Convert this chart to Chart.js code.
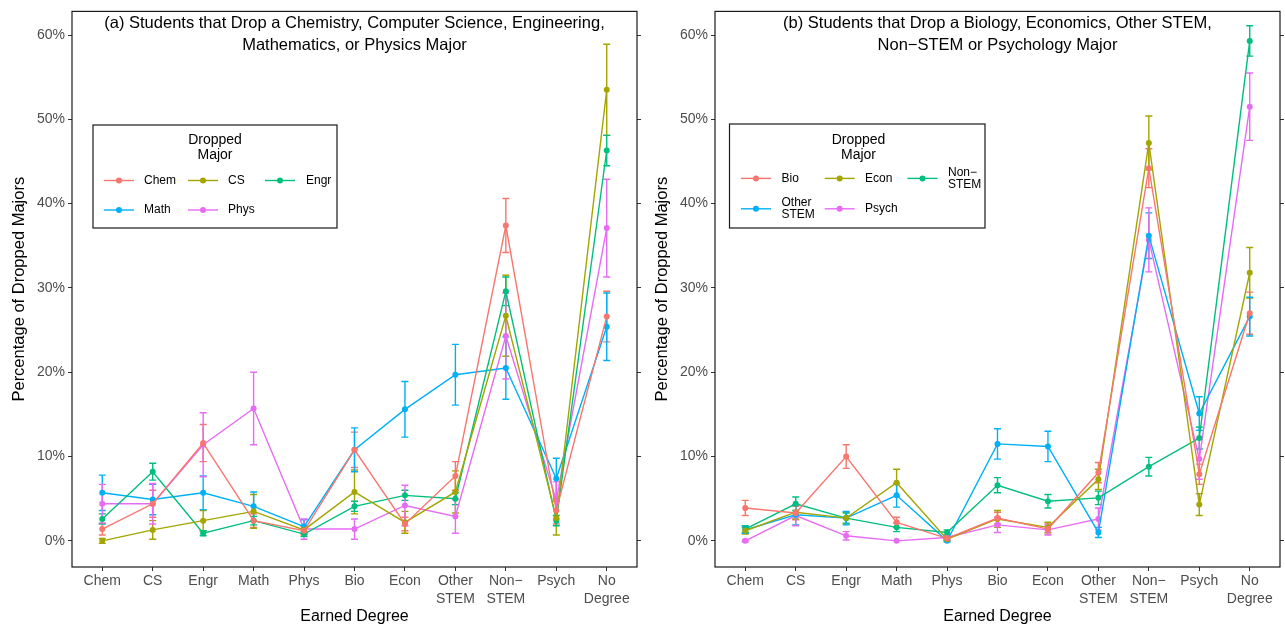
<!DOCTYPE html>
<html>
<head>
<meta charset="utf-8">
<script src="https://cdn.jsdelivr.net/npm/chart.js@4"></script>
<style>
  body { margin: 0; background: #fff; width: 1285px; height: 626px; overflow: hidden; position: relative; }
  canvas { position: absolute; top: 0; }
  #panelA { left: 0; }
  #panelB { left: 643px; }
</style>
</head>
<body>
<canvas id="panelA" width="642" height="626"></canvas>
<canvas id="panelB" width="642" height="626"></canvas>
<script>
// earned degree categories (x axis) and y ticks
const degreeLabels = ['Chem', 'CS', 'Engr', 'Math', 'Phys', 'Bio', 'Econ', ['Other', 'STEM'], ['Non\u2212', 'STEM'], 'Psych', ['No', 'Degree']];
const yTickValues = [0, 10, 20, 30, 40, 50, 60];
const hueColors = ['#F8766D', '#A3A500', '#00BF7D', '#00B0F6', '#E76BF3'];

// panel (a): dropped Chem / CS / Engr / Math / Phys
const majorsA = ['Chem', 'CS', 'Engr', 'Math', 'Phys'];
const chemPct = [1.4, 4.4, 11.6, 2.4, 1.2, 10.8, 2.0, 7.7, 37.4, 3.6, 26.6];
const chemErr = [0.7, 1.6, 2.2, 0.8, 0.5, 2.1, 0.8, 1.7, 3.2, 1.6, 3.0];
const csPct   = [0.0, 1.3, 2.4, 3.5, 1.3, 5.8, 2.2, 5.8, 26.7, 2.7, 53.5];
const csErr   = [0.3, 1.1, 1.2, 2.0, 0.5, 2.6, 1.3, 2.5, 4.8, 2.0, 5.4];
const engrPct = [2.6, 8.2, 0.9, 2.4, 0.8, 4.1, 5.4, 5.0, 29.6, 2.4, 46.3];
const engrErr = [0.6, 1.0, 0.3, 0.5, 0.3, 0.6, 0.6, 0.7, 1.7, 0.6, 1.8];
const mathPct = [5.7, 4.9, 5.7, 4.1, 1.7, 10.8, 15.6, 19.7, 20.5, 7.4, 25.4];
const mathErr = [2.1, 1.8, 2.0, 1.7, 0.8, 2.6, 3.3, 3.6, 3.7, 2.4, 4.0];
const physPct = [4.4, 4.4, 11.4, 15.7, 1.4, 1.4, 4.2, 2.9, 24.3, 4.8, 37.1];
const physErr = [2.3, 2.4, 3.8, 4.3, 1.2, 1.2, 2.4, 2.0, 5.1, 2.2, 5.8];

// panel (b): dropped Bio / Econ / Non-STEM / Other STEM / Psych
const majorsB = ['Bio', 'Econ', ['Non\u2212', 'STEM'], ['Other', 'STEM'], 'Psych'];
const bioPct      = [3.9, 3.3, 10.0, 2.2, 0.3, 2.7, 1.4, 8.1, 44.2, 7.9, 27.0];
const bioErr      = [0.9, 0.8, 1.4, 0.6, 0.2, 0.7, 0.6, 1.2, 2.3, 1.2, 2.5];
const econPct     = [1.2, 3.4, 2.7, 6.9, 0.2, 2.6, 1.6, 7.3, 47.2, 4.3, 31.8];
const econErr     = [0.4, 0.8, 0.7, 1.6, 0.2, 1.0, 0.6, 1.2, 3.2, 1.3, 3.0];
const nonStemPct  = [1.4, 4.4, 2.7, 1.6, 1.0, 6.6, 4.7, 5.1, 8.8, 12.2, 59.3];
const nonStemErr  = [0.4, 0.8, 0.6, 0.5, 0.3, 0.9, 0.8, 0.8, 1.1, 1.3, 1.8];
const otherPct    = [1.3, 3.1, 2.7, 5.4, 0.0, 11.5, 11.2, 1.0, 36.2, 15.1, 26.6];
const otherErr    = [0.4, 1.2, 0.8, 1.4, 0.1, 1.8, 1.8, 0.6, 2.7, 2.0, 2.3];
const psychPct    = [0.0, 3.0, 0.6, 0.0, 0.4, 1.9, 1.3, 2.6, 35.7, 9.7, 51.5];
const psychErr    = [0.1, 1.2, 0.5, 0.0, 0.3, 0.9, 0.6, 1.3, 3.8, 2.4, 4.0];

const FONT = "'Liberation Sans', Arial, Helvetica, sans-serif";
Chart.defaults.font.family = FONT;

// vertical error bars with caps
const errorBars = {
  id: 'errorBars',
  beforeDatasetsDraw(chart) {
    const ctx = chart.ctx, x = chart.scales.x, y = chart.scales.y;
    chart.data.datasets.forEach(ds => {
      ctx.save();
      ctx.strokeStyle = ds.borderColor;
      ctx.lineWidth = 1.4;
      ds.data.forEach((p, i) => {
        const e = ds.err[i];
        if (!e) return;
        const px = x.getPixelForValue(p.x);
        const t = y.getPixelForValue(p.y + e), b = y.getPixelForValue(p.y - e);
        ctx.beginPath();
        ctx.moveTo(px, t); ctx.lineTo(px, b);
        ctx.moveTo(px - 3.5, t); ctx.lineTo(px + 3.5, t);
        ctx.moveTo(px - 3.5, b); ctx.lineTo(px + 3.5, b);
        ctx.stroke();
      });
      ctx.restore();
    });
  }
};

// panel title inside plot + frame
const panelDecor = {
  id: 'panelDecor',
  afterDraw(chart, args, opts) {
    const ctx = chart.ctx, a = chart.chartArea;
    ctx.save();
    ctx.strokeStyle = '#1a1a1a';
    ctx.lineWidth = 1.2;
    ctx.strokeRect(a.left, a.top, a.right - a.left, a.bottom - a.top);
    ctx.fillStyle = '#000';
    ctx.font = '16.5px ' + FONT;
    ctx.textAlign = 'center';
    ctx.textBaseline = 'middle';
    const cx = (a.left + a.right) / 2;
    opts.lines.forEach((line, i) => ctx.fillText(line, cx, 23 + i * 22));
    ctx.restore();
  }
};

// boxed legend inside the plot
const boxLegend = {
  id: 'boxLegend',
  afterDraw(chart, args, opts) {
    const ctx = chart.ctx;
    const [bx, by, bw, bh] = opts.box;
    ctx.save();
    ctx.fillStyle = '#fff';
    ctx.fillRect(bx, by, bw, bh);
    ctx.strokeStyle = '#1a1a1a';
    ctx.lineWidth = 1.2;
    ctx.strokeRect(bx, by, bw, bh);
    ctx.fillStyle = '#000';
    ctx.font = '14px ' + FONT;
    ctx.textAlign = 'center';
    ctx.textBaseline = 'middle';
    ctx.fillText('Dropped', opts.titleX, 140.5);
    ctx.fillText('Major', opts.titleX, 155);
    ctx.font = '12px ' + FONT;
    ctx.textAlign = 'left';
    chart.data.datasets.forEach((ds, k) => {
      const it = opts.items[k];
      ctx.strokeStyle = ds.borderColor;
      ctx.fillStyle = ds.borderColor;
      ctx.lineWidth = 1.4;
      ctx.beginPath();
      ctx.moveTo(it[0], it[2]); ctx.lineTo(it[0] + 30, it[2]);
      ctx.stroke();
      ctx.beginPath();
      ctx.arc(it[0] + 15, it[2], 3, 0, Math.PI * 2);
      ctx.fill();
      ctx.fillStyle = '#000';
      const lab = Array.isArray(ds.label) ? ds.label : [ds.label];
      lab.forEach((s, j) => ctx.fillText(s, it[1], it[2] + (j - (lab.length - 1) / 2) * 12));
    });
    ctx.restore();
  }
};

function setTicks(values) {
  return scale => { scale.ticks = values.map(v => ({ value: v })); };
}

function buildPanel(id, majors, values, errs, titleLines, legendOpts) {
  const datasets = majors.map((m, k) => ({
    label: m,
    data: values[k].map((v, i) => ({ x: i, y: v })),
    err: errs[k],
    borderColor: hueColors[k],
    backgroundColor: hueColors[k],
    borderWidth: 1.4,
    pointRadius: 3,
    pointHoverRadius: 3,
    pointBorderWidth: 0,
    tension: 0
  }));
  return new Chart(document.getElementById(id), {
    type: 'line',
    data: { datasets },
    options: {
      responsive: false,
      animation: false,
      devicePixelRatio: 1,
      layout: { padding: { top: 9, left: 0, right: 0, bottom: 0 } },
      plugins: {
        legend: { display: false },
        tooltip: { enabled: false },
        panelDecor: { lines: titleLines },
        boxLegend: legendOpts
      },
      scales: {
        x: {
          type: 'linear', min: -0.6, max: 10.6,
          afterBuildTicks: setTicks(degreeLabels.map((_, i) => i)),
          afterFit: s => { s.height = 59; },
          ticks: {
            callback: v => degreeLabels[v],
            color: '#4D4D4D', font: { size: 14, lineHeight: 1.3 },
            padding: 1, autoSkip: false, maxRotation: 0
          },
          grid: { drawOnChartArea: false, drawTicks: true, tickLength: 4, color: '#333' },
          border: { display: false },
          title: { display: true, text: 'Earned Degree', color: '#000', font: { size: 16 }, padding: { top: 0, bottom: 0 } }
        },
        y: {
          min: -3.1, max: 62.8,
          afterBuildTicks: setTicks(yTickValues),
          afterFit: s => { s.width = 72; },
          ticks: { callback: v => v + '%', color: '#4D4D4D', font: { size: 14 }, padding: 3 },
          grid: { drawOnChartArea: false, drawTicks: true, tickLength: 4, color: '#333' },
          border: { display: false },
          title: { display: true, text: 'Percentage of Dropped Majors', color: '#000', font: { size: 16.5 }, padding: { top: 10, bottom: 0 } }
        },
        y2: {
          position: 'right',
          min: -3.1, max: 62.8,
          afterBuildTicks: setTicks(yTickValues),
          afterFit: s => { s.width = 5; },
          ticks: { display: false },
          grid: { drawOnChartArea: false, drawTicks: true, tickLength: 4, color: '#333' },
          border: { display: false }
        }
      }
    },
    plugins: [errorBars, panelDecor, boxLegend]
  });
}

buildPanel('panelA', majorsA,
  [chemPct, csPct, engrPct, mathPct, physPct],
  [chemErr, csErr, engrErr, mathErr, physErr],
  ['(a) Students that Drop a Chemistry, Computer Science, Engineering,', 'Mathematics, or Physics Major'],
  { box: [93, 125, 244, 103], titleX: 215,
    items: [[104, 144, 180.5], [188, 228, 180.5], [265, 306, 180.5], [104, 144, 210], [188, 228, 210]] });

buildPanel('panelB', majorsB,
  [bioPct, econPct, nonStemPct, otherPct, psychPct],
  [bioErr, econErr, nonStemErr, otherErr, psychErr],
  ['(b) Students that Drop a Biology, Economics, Other STEM,', 'Non\u2212STEM or Psychology Major'],
  { box: [86.5, 124, 255.5, 104], titleX: 215.5,
    items: [[98, 138.5, 178.4], [181.7, 222, 178.4], [264.5, 305, 178.4], [98, 138.5, 208.8], [181.7, 222, 208.8]] });
</script>
</body>
</html>
